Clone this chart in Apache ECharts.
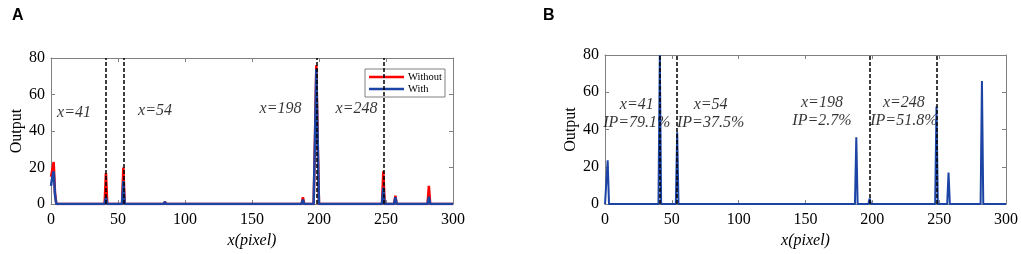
<!DOCTYPE html>
<html>
<head>
<meta charset="utf-8">
<script src="https://cdn.jsdelivr.net/npm/echarts@6/dist/echarts.min.js"></script>
<style>
html,body{margin:0;padding:0;background:#fff;}
#chart{width:1021px;height:254px;}
</style>
</head>
<body>
<div id="chart"></div>
<script>
// ---------- data ----------
const xTicks = [0, 50, 100, 150, 200, 250, 300];
const yTicks = [0, 20, 40, 60, 80];

// Panel A: [x, output]
const withoutPoints = [
  [0, 15], [1, 19], [2, 23], [3, 6], [4, 0],
  [40, 0], [41, 17], [42, 0],
  [53, 0], [54, 20], [55, 0],
  [84, 0], [85, 1.2], [86, 0],
  [187, 0], [188, 3.7], [189, 0],
  [196, 0], [197, 36], [198, 76], [199, 36], [200, 0],
  [247, 0], [248, 18], [249, 0],
  [256, 0], [257, 4.6], [258, 0],
  [281, 0], [282, 10], [283, 0],
  [300, 0]
];
const withPoints = [
  [0, 10], [1, 15], [2, 18], [3, 5], [4, 0],
  [40, 0], [41, 3.7], [42, 0],
  [53, 0], [54, 12.6], [55, 0],
  [84, 0], [85, 1.2], [86, 0],
  [187, 0], [188, 2.5], [189, 0],
  [196, 0], [197, 35], [198, 74], [199, 35], [200, 0],
  [247, 0], [248, 9], [249, 0],
  [256, 0], [257, 3.8], [258, 0],
  [281, 0], [282, 4], [283, 0],
  [300, 0]
];
// Panel B
const panelBPoints = [
  [0, 0], [1, 0], [2, 23.5], [3, 0],
  [40, 0], [41, 79.8], [42, 0],
  [53, 0], [54, 38.6], [55, 0],
  [187, 0], [188, 35.9], [189, 0],
  [197, 0], [198, 3], [199, 0],
  [247, 0], [248, 52.4], [249, 0],
  [256, 0], [257, 16.9], [258, 0],
  [281, 0], [282, 66.1], [283, 0],
  [300, 0]
];

const markedX = [41, 54, 198, 248];
const notesA = ['x=41', 'x=54', 'x=198', 'x=248'];
const notesAX = [17.2, 77.6, 171.3, 228];
const notesAY = [50.1, 51.2, 52.3, 52.3];
const notesB = ['x=41\nIP=79.1%', 'x=54\nIP=37.5%', 'x=198\nIP=2.7%', 'x=248\nIP=51.8%'];
const notesBX = [23.8, 79.0, 162.3, 223.6];
const notesBY = [48.5, 48.5, 49.3, 49.3];

// ---------- chart ----------
const SERIF = 'Liberation Serif';
const AX = '#808080';
const RED = '#ff0000';
const BLUE = '#1c44a4';

function mainX(grid) {
  return {
    type: 'value', gridIndex: grid, min: xTicks[0], max: xTicks[xTicks.length - 1],
    interval: xTicks[1] - xTicks[0],
    axisLine: {show: true, lineStyle: {color: AX, width: 1}},
    axisTick: {show: true, inside: true, length: 4, lineStyle: {color: AX}},
    axisLabel: {color: '#000', fontFamily: SERIF, fontSize: 16, margin: 8},
    splitLine: {show: false},
    name: 'x(pixel)', nameLocation: 'middle', nameGap: 13,
    nameTextStyle: {color: '#000', fontFamily: SERIF, fontSize: 16, fontStyle: 'italic'}
  };
}
function mirrorX(grid) {
  return {
    type: 'value', gridIndex: grid, position: 'top', min: xTicks[0], max: xTicks[xTicks.length - 1],
    interval: xTicks[1] - xTicks[0],
    axisLine: {show: true, onZero: false, lineStyle: {color: AX, width: 1}},
    axisTick: {show: true, inside: true, length: 4, lineStyle: {color: AX}},
    axisLabel: {show: false}, splitLine: {show: false}
  };
}
function mainY(grid) {
  return {
    type: 'value', gridIndex: grid, min: yTicks[0], max: yTicks[yTicks.length - 1],
    interval: yTicks[1] - yTicks[0],
    axisLine: {show: true, lineStyle: {color: AX, width: 1}},
    axisTick: {show: true, inside: true, length: 4, lineStyle: {color: AX}},
    axisLabel: {color: '#000', fontFamily: SERIF, fontSize: 16, margin: 6},
    splitLine: {show: false},
    name: 'Output', nameLocation: 'middle', nameGap: 23, nameRotate: 90,
    nameTextStyle: {color: '#000', fontFamily: SERIF, fontSize: 16}
  };
}
function mirrorY(grid) {
  return {
    type: 'value', gridIndex: grid, position: 'right', min: yTicks[0], max: yTicks[yTicks.length - 1],
    interval: yTicks[1] - yTicks[0],
    axisLine: {show: true, onZero: false, lineStyle: {color: AX, width: 1}},
    axisTick: {show: true, inside: true, length: 4, lineStyle: {color: AX}},
    axisLabel: {show: false}, splitLine: {show: false}
  };
}
function noteSeries(xi, yi, xs, ys, texts) {
  return {
    type: 'scatter', xAxisIndex: xi, yAxisIndex: yi, symbolSize: 0, silent: true, z: 1,
    data: texts.map((t, i) => ({value: [xs[i], ys[i]], name: t})),
    label: {
      show: true, position: 'inside', formatter: p => p.name,
      color: '#000', fontFamily: SERIF, fontSize: 16, fontStyle: 'italic', lineHeight: 18
    },
    markLine: {
      silent: true, symbol: 'none', animation: false,
      label: {show: false},
      lineStyle: {color: '#000', type: [4, 2], width: 1.5},
      data: markedX.map(v => ({xAxis: v}))
    }
  };
}
function lineSeries(name, xi, yi, data, color, w) {
  return {
    name: name, type: 'line', xAxisIndex: xi, yAxisIndex: yi, data: data,
    symbol: 'none', showSymbol: false, z: 2,
    lineStyle: {color: color, width: w}, itemStyle: {color: color}
  };
}

const chart = echarts.init(document.getElementById('chart'));
chart.setOption({
  animation: false,
  backgroundColor: '#fff',
  title: [
    {text: 'A', left: 12, top: 8, padding: 0,
     textStyle: {fontFamily: 'Liberation Sans', fontWeight: 'bold', fontSize: 16, color: '#000'}},
    {text: 'B', left: 543, top: 8, padding: 0,
     textStyle: {fontFamily: 'Liberation Sans', fontWeight: 'bold', fontSize: 16, color: '#000'}}
  ],
  grid: [
    {left: 51, top: 58, width: 402, height: 150},
    {left: 605, top: 55, width: 403, height: 150}
  ],
  xAxis: [mainX(0), mirrorX(0), mainX(1), mirrorX(1)],
  yAxis: [mainY(0), mirrorY(0), mainY(1), mirrorY(1)],
  legend: {
    data: [
      {name: 'Without', icon: 'rect', itemStyle: {color: RED}},
      {name: 'With', icon: 'rect', itemStyle: {color: BLUE}}
    ],
    orient: 'vertical', left: 365, top: 69,
    padding: [2, 3, 2, 4], itemGap: 0, itemWidth: 35, itemHeight: 2.5,
    borderColor: AX, borderWidth: 1, backgroundColor: '#fff',
    textStyle: {fontFamily: SERIF, fontSize: 10.5, lineHeight: 12, color: '#000', padding: [0, 0, 0, -1]}
  },
  series: [
    noteSeries(0, 0, notesAX, notesAY, notesA),
    lineSeries('Without', 0, 0, withoutPoints, RED, 2.5),
    lineSeries('With', 0, 0, withPoints, BLUE, 2.5),
    noteSeries(2, 2, notesBX, notesBY, notesB),
    lineSeries('IP', 2, 2, panelBPoints, BLUE, 2)
  ]
});
</script>
</body>
</html>
